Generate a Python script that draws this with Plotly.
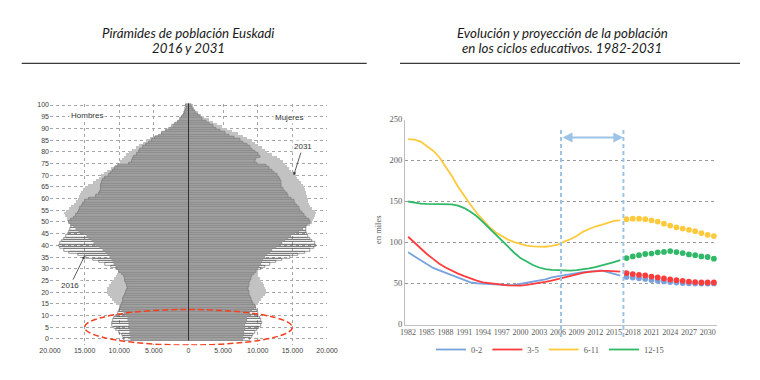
import plotly.graph_objects as go
import numpy as np

# ---------------- Pyramid data (thousands of persons, ages 0..100) ----------------
ages = list(range(101))
hombres_2016 = [9.3, 9.5, 9.6, 10.0, 10.5, 10.8, 11.0, 11.1, 10.9, 10.7,
                10.4, 10.2, 10.1, 9.9, 9.7, 9.6, 9.5, 9.4, 9.3, 9.2,
                9.0, 8.9, 8.8, 8.9, 9.0, 9.1, 9.2, 9.3, 9.6, 10.0,
                10.5, 11.2, 12.0, 12.9, 13.8, 14.8, 16.0, 17.2, 18.0, 18.6,
                18.7, 18.6, 18.2, 18.0, 17.7, 17.4, 17.2, 17.1, 17.0, 16.9,
                17.2, 17.0, 16.6, 16.2, 16.0, 15.8, 15.6, 15.4, 15.3, 15.0,
                14.3, 13.3, 12.9, 12.8, 12.7, 12.6, 12.7, 12.5, 12.3, 12.1,
                11.5, 11.2, 10.9, 10.6, 10.2, 8.6, 8.2, 8.0, 7.8, 7.5,
                7.2, 7.0, 6.6, 6.1, 5.7, 5.3, 4.8, 4.3, 3.8, 3.3,
                2.8, 2.4, 1.9, 1.5, 1.2, 0.9, 0.7, 0.5, 0.35, 0.25, 0.3]
hombres_2031 = [8.3, 8.3, 8.4, 8.4, 8.5, 8.5, 8.6, 8.6, 8.7, 8.8,
                9.0, 9.3, 9.6, 9.9, 10.1, 10.4, 10.7, 11.0, 11.3, 11.6,
                11.8, 11.8, 11.7, 11.5, 11.2, 11.0, 10.8, 10.5, 10.3, 10.2,
                10.3, 10.5, 10.7, 10.9, 11.1, 11.3, 11.6, 11.9, 12.3, 12.8,
                13.3, 13.7, 14.0, 14.3, 14.7, 15.2, 15.8, 16.2, 16.6, 17.0,
                17.3, 17.5, 17.6, 17.8, 18.0, 17.7, 17.3, 16.9, 16.5, 16.3,
                16.0, 15.8, 15.7, 15.5, 15.2, 15.0, 14.5, 13.8, 13.3, 12.9,
                12.6, 12.2, 11.7, 11.2, 10.6, 10.1, 9.9, 9.6, 9.3, 9.0,
                8.6, 8.2, 7.6, 7.1, 6.6, 6.2, 5.6, 4.8, 4.0, 3.4,
                2.7, 2.3, 2.0, 1.6, 1.3, 1.1, 0.9, 0.8, 0.7, 0.6, 0.5]
mujeres_2016 = [8.9, 9.1, 9.3, 9.6, 9.9, 10.2, 10.5, 10.6, 10.4, 10.3,
                10.1, 10.0, 9.9, 9.8, 9.6, 9.3, 9.1, 9.0, 8.9, 8.8,
                8.7, 8.6, 8.6, 8.7, 8.8, 8.9, 9.0, 9.2, 9.4, 9.8,
                10.4, 11.0, 11.7, 12.6, 13.5, 14.6, 15.8, 16.8, 17.6, 18.1,
                18.4, 18.2, 17.9, 17.6, 17.3, 17.1, 17.0, 16.9, 16.9, 17.1,
                17.6, 17.4, 17.0, 16.7, 16.4, 16.1, 15.9, 15.6, 15.4, 15.2,
                14.8, 14.4, 14.2, 14.0, 13.6, 13.4, 13.4, 13.3, 13.2, 13.0,
                12.8, 12.4, 12.0, 11.6, 11.2, 9.9, 9.6, 9.8, 10.3, 10.0,
                9.6, 9.2, 8.9, 8.4, 7.9, 7.4, 6.6, 5.9, 5.2, 4.6,
                4.0, 3.5, 3.0, 2.5, 2.0, 1.6, 1.3, 0.9, 0.6, 0.45, 0.35]
mujeres_2031 = [7.9, 7.9, 8.0, 8.0, 8.1, 8.1, 8.2, 8.3, 8.4, 8.5,
                8.7, 8.9, 9.1, 9.4, 9.7, 10.0, 10.2, 10.5, 10.8, 11.0,
                11.2, 11.2, 11.1, 10.9, 10.7, 10.5, 10.3, 10.1, 10.0, 10.0,
                10.1, 10.2, 10.4, 10.6, 10.8, 11.1, 11.4, 11.7, 12.1, 12.6,
                13.1, 13.5, 13.9, 14.3, 14.8, 15.4, 16.0, 16.5, 17.0, 17.5,
                17.8, 18.0, 18.1, 18.3, 18.4, 18.2, 17.8, 17.5, 17.4, 17.3,
                17.2, 17.1, 17.0, 16.9, 16.8, 16.7, 16.5, 16.2, 15.9, 15.7,
                15.5, 15.2, 14.8, 14.5, 14.2, 14.0, 13.6, 13.2, 12.8, 12.0,
                11.3, 11.0, 10.6, 10.1, 9.6, 9.1, 8.5, 7.9, 7.1, 6.3,
                5.5, 4.8, 4.1, 3.5, 2.9, 2.3, 1.8, 1.4, 1.0, 0.8, 0.6]
pyr_tickvals = [-20000, -15000, -10000, -5000, 0, 5000, 10000, 15000, 20000]
pyr_ticktext = ["20.000", "15.000", "10.000", "5.000", "0", "5.000", "10.000", "15.000", "20.000"]
age_ticks = list(range(0, 101, 5))

# ---------------- Educational cycles data (thousands) ----------------
hist_years = list(range(1982, 2017))
proj_years = list(range(2017, 2032))
c0_2_hist = [88, 83, 78, 73, 69, 66, 63, 60, 57, 54, 51.5, 50.3, 49.9, 49, 48.2, 47.9, 47.9, 48.2,
             49.5, 50.7, 52.3, 53.5, 55, 57.5, 58.9, 60.3, 61.4, 62.5, 63.8, 64.6, 65.5, 66, 64, 61.5, 59.5]
c0_2_proj = [58.0, 57.2, 56.4, 55.6, 54.2, 53.3, 52.5, 51.7, 51.1, 50.6, 50.2, 50.0, 49.9, 50.0, 50.1]
c3_5_hist = [107, 100, 92, 86, 80, 74, 69.5, 65.5, 62, 59, 56, 53.5, 51.5, 50.3, 49.2, 48.5, 47.8, 47.3,
             47.5, 48.3, 49.3, 50.5, 52, 53.5, 55.5, 57.5, 59.5, 61.5, 63, 64.2, 65, 65.4, 65.5, 65.2, 64.6]
c3_5_proj = [62.7, 61.5, 60.6, 59.8, 58.5, 57.3, 56.1, 55.0, 54.1, 53.3, 52.4, 51.7, 51.2, 51.2, 51.2]
c6_11_hist = [226, 225.5, 223, 218, 212, 204, 193, 181, 168, 156.5, 146, 136, 127, 119, 112.5, 107.5, 103.5,
              100.5, 98, 96.2, 95.2, 94.7, 94.8, 95.8, 97.5, 101, 104, 108, 113, 116.5, 119.5, 121.5, 124, 126.5, 127]
c6_11_proj = [128.5, 129, 129, 128.5, 127, 125.5, 123, 120.7, 118.5, 117, 115.5, 113.8, 111.5, 109.4, 107.8]
c12_15_hist = [150, 148.5, 147.5, 147, 147, 147, 147, 146.5, 145, 142, 137.5, 132, 125, 117.5, 110, 102, 94.5,
               87.5, 81, 76.5, 72.5, 69.5, 67.5, 66.5, 66, 65.7, 65.7, 66.2, 67, 68.5, 70, 71.8, 73.8, 76, 78.5]
c12_15_proj = [81, 83, 84.5, 86, 86.5, 88, 88.5, 89.5, 88.3, 87, 85.5, 84.5, 83, 82.3, 80.3]
year_ticks = list(range(1982, 2031, 3))

series = [
    ("0-2", c0_2_hist, c0_2_proj, "#78a2dd"),
    ("3-5", c3_5_hist, c3_5_proj, "#ff3c3c"),
    ("6-11", c6_11_hist, c6_11_proj, "#ffc93c"),
    ("12-15", c12_15_hist, c12_15_proj, "#2fb868"),
]

# The page body keeps an 8px margin, so the figure is 16px smaller than the window
OFF = 8
W, H = 760 - 2 * OFF, 380 - 2 * OFF
def px_x(p): return (p - OFF) / W
def px_y(p): return 1 - (p - OFF) / H

fig = go.Figure()

h16 = np.array(hombres_2016) * 1000
h31 = np.array(hombres_2031) * 1000
m16 = np.array(mujeres_2016) * 1000
m31 = np.array(mujeres_2031) * 1000

LIGHT = "#c2c2c2"
MID = "#a0a0a0"
for vals, sign in [(h31, -1), (m31, 1)]:
    fig.add_trace(go.Bar(y=ages, x=sign * vals, orientation="h", width=1,
                         marker=dict(color=LIGHT, line=dict(width=0)),
                         showlegend=False, hoverinfo="skip", xaxis="x", yaxis="y"))
for vals, sign in [(h16, -1), (m16, 1)]:
    fig.add_trace(go.Bar(y=ages, x=sign * vals, orientation="h", width=1,
                         marker=dict(color="rgba(0,0,0,0)", line=dict(color="#3a3a3a", width=0.5)),
                         showlegend=False, hoverinfo="skip", xaxis="x", yaxis="y"))
for a, b, sign in [(h16, h31, -1), (m16, m31, 1)]:
    fig.add_trace(go.Bar(y=ages, x=sign * np.minimum(a, b), orientation="h", width=1,
                         marker=dict(color=MID, line=dict(color="#888888", width=0.4)),
                         showlegend=False, hoverinfo="skip", xaxis="x", yaxis="y"))

# line chart
for name, hist, proj, col in series:
    fig.add_trace(go.Scatter(x=hist_years, y=hist, mode="lines", name=name,
                             line=dict(color=col, width=1.8), xaxis="x2", yaxis="y2",
                             legendgroup=name))
    fig.add_trace(go.Scatter(x=proj_years, y=proj, mode="markers", name=name,
                             marker=dict(color=col, size=5.8), xaxis="x2", yaxis="y2",
                             showlegend=False, legendgroup=name))

grid_c = "#a6a6a6"
fig.update_layout(
    width=W, height=H, autosize=False,
    margin=dict(l=0, r=0, t=0, b=0, pad=0, autoexpand=False),
    paper_bgcolor="white", plot_bgcolor="white",
    barmode="overlay", bargap=0,
    font=dict(family="Liberation Sans", color="#404040"),
    xaxis=dict(domain=[px_x(50), px_x(327)], range=[-20000, 20000],
               tickvals=pyr_tickvals, ticktext=pyr_ticktext,
               showgrid=True, gridcolor=grid_c, griddash="dot", gridwidth=1,
               zeroline=False, showline=False, ticks="", automargin=False,
               tickfont=dict(size=7, family="Liberation Sans", color="#404040"),
               anchor="y", fixedrange=True),
    yaxis=dict(domain=[px_y(345.3), px_y(103.6)], range=[-2.7, 100.6],
               tickvals=age_ticks, showgrid=True, gridcolor=grid_c, griddash="dot",
               zeroline=False, showline=False, ticks="", automargin=False,
               tickfont=dict(size=7, family="Liberation Sans", color="#404040"),
               anchor="x", fixedrange=True),
    xaxis2=dict(domain=[px_x(405), px_x(717)], range=[1981.5, 2031.5],
                tickvals=year_ticks, showgrid=False, zeroline=False, automargin=False,
                showline=True, linecolor="#bfbfbf", linewidth=1, ticks="",
                tickfont=dict(size=8, family="Liberation Serif", color="#595959"),
                anchor="y2"),
    yaxis2=dict(domain=[px_y(324.5), px_y(119.5)], range=[0, 250], dtick=50,
                showgrid=True, gridcolor="#9a9a9a", griddash="dot", zeroline=False,
                showline=True, linecolor="#bfbfbf", linewidth=1, ticks="", automargin=False,
                tickfont=dict(size=8.5, family="Liberation Serif", color="#595959"),
                anchor="x2"),
    legend=dict(orientation="h", x=px_x(550), xanchor="center", y=px_y(349.5), yanchor="middle",
                font=dict(size=8.5, family="Liberation Serif", color="#595959"),
                itemwidth=30, bgcolor="rgba(0,0,0,0)", tracegroupgap=0),
)

shapes = []
shapes.append(dict(type="line", xref="x", yref="y domain", x0=0, x1=0, y0=0.02, y1=1,
                   line=dict(color="#333333", width=1), layer="above"))
shapes.append(dict(type="circle", xref="x", yref="y", x0=-15000, x1=15000, y0=-2.6, y1=12.6,
                   line=dict(color="#f2401f", width=1.5, dash="6px,3px"), layer="above"))
shapes.append(dict(type="line", xref="paper", yref="paper", x0=px_x(21.7), x1=px_x(366.7),
                   y0=px_y(63.3), y1=px_y(63.3), line=dict(color="#3a3a3a", width=1.3)))
shapes.append(dict(type="line", xref="paper", yref="paper", x0=px_x(400), x1=px_x(740),
                   y0=px_y(63.3), y1=px_y(63.3), line=dict(color="#3a3a3a", width=1.3)))
for xv in [2006.5, 2016.5]:
    shapes.append(dict(type="line", xref="x2", yref="paper", x0=xv, x1=xv,
                       y0=px_y(337), y1=px_y(127),
                       line=dict(color="#9dc3e6", width=2, dash="4px,3px"), layer="above"))
fig.update_layout(shapes=shapes)

ann = []
title_font = dict(family="Lato", size=13.3, color="#1a1a1a")
for xc, yc, txt in [(188, 33, "Pirámides de población Euskadi"),
                    (188, 47.7, "2016 y 2031"),
                    (562, 33, "Evolución y proyección de la población"),
                    (562, 47.7, "en los ciclos educativos. 1982-2031")]:
    ann.append(dict(xref="paper", yref="paper", x=px_x(xc), y=px_y(yc), showarrow=False,
                    xanchor="center", yanchor="middle", text="<i>" + txt + "</i>",
                    font=title_font))
small = dict(family="Liberation Sans", size=8, color="#333333")
ann.append(dict(xref="x", yref="y", x=-14700, y=95.3, text="Hombres", showarrow=False,
                font=small, bgcolor="white"))
ann.append(dict(xref="x", yref="y", x=14500, y=94.8, text="Mujeres", showarrow=False,
                font=small, bgcolor="white"))
ann.append(dict(xref="x", yref="y", x=15200, y=70, ax=16500, ay=82.2, axref="x", ayref="y",
                text="2031", showarrow=True, arrowhead=2, arrowsize=0.8, arrowwidth=0.8,
                arrowcolor="#333333", font=small, bgcolor="white"))
ann.append(dict(xref="x", yref="y", x=-15000, y=35.5, ax=-17100, ay=22.8, axref="x", ayref="y",
                text="2016", showarrow=True, arrowhead=2, arrowsize=0.8, arrowwidth=0.8,
                arrowcolor="#333333", font=small, bgcolor="white"))
ann.append(dict(xref="paper", yref="paper", x=px_x(378), y=px_y(230), text="en miles",
                textangle=-90, showarrow=False,
                font=dict(family="Liberation Serif", size=8.5, color="#595959")))
ann.append(dict(xref="x2", yref="y2", x=2016.5, y=228, ax=2006.5, ay=228, axref="x2", ayref="y2",
                text="", showarrow=True, arrowhead=2, arrowside="end+start", arrowsize=1,
                arrowwidth=2, arrowcolor="#9dc3e6"))
fig.update_layout(annotations=ann)

fig.write_html("out.html")
